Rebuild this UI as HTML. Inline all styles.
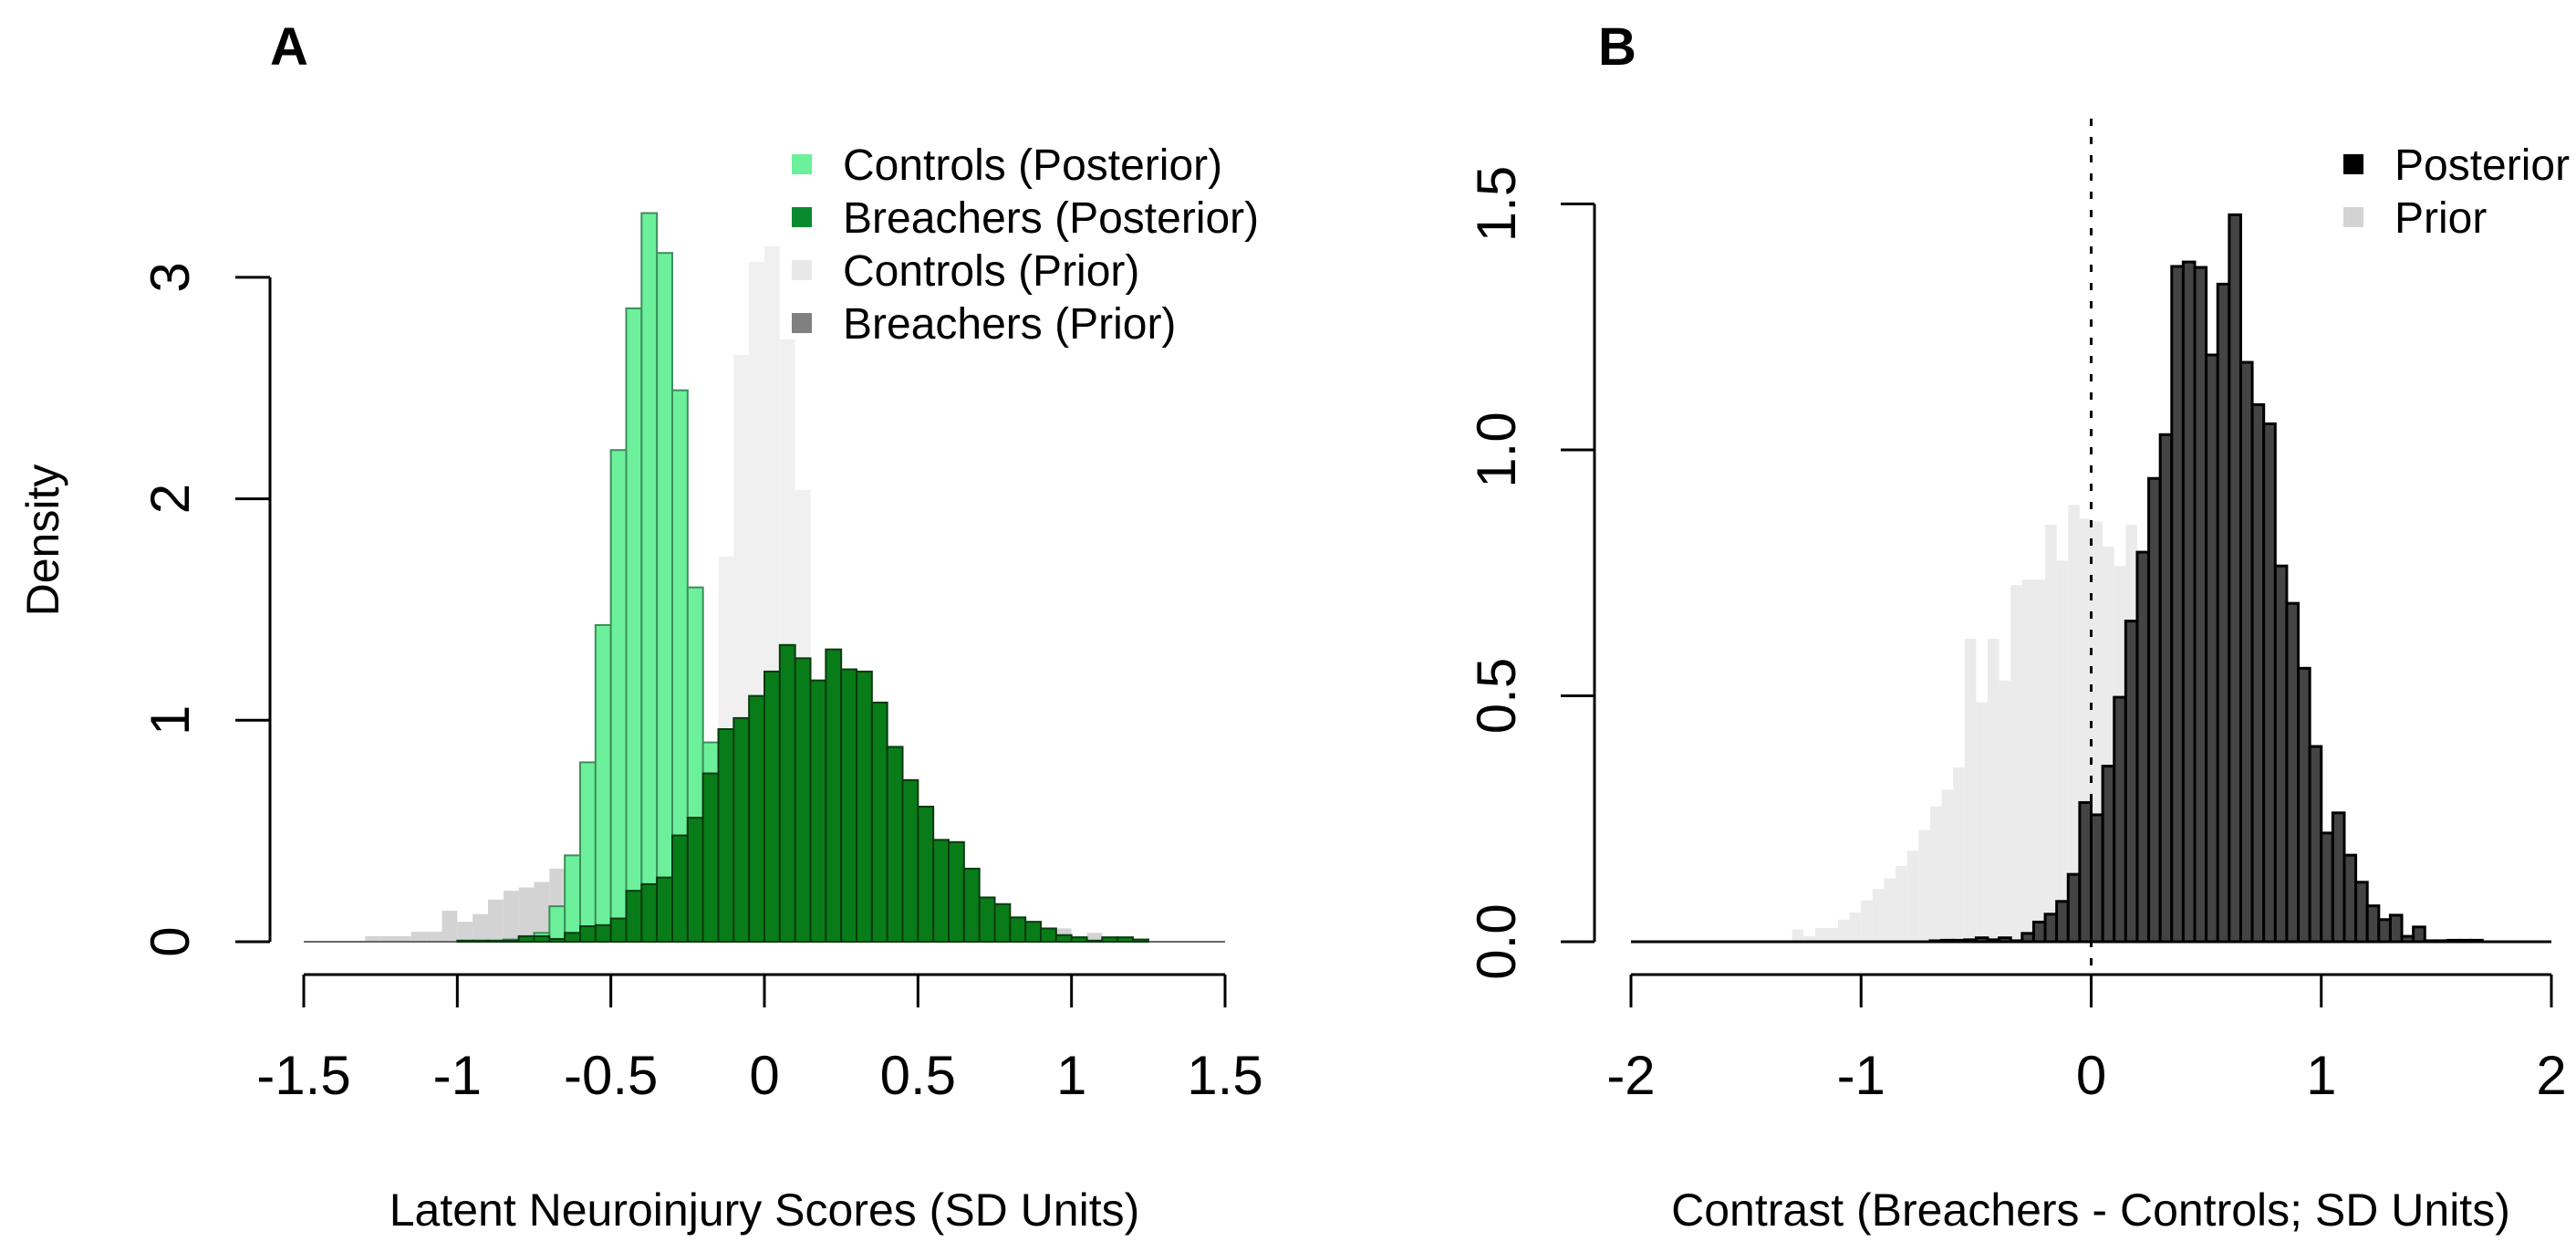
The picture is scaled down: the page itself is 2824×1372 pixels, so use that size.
<!DOCTYPE html>
<html><head><meta charset="utf-8"><style>
html,body{margin:0;padding:0;background:#fff;}
svg{display:block;font-family:"Liberation Sans",Arial,sans-serif;}
</style></head>
<body>
<svg id="fig" width="2824" height="1372" viewBox="0 0 2824 1372" xmlns="http://www.w3.org/2000/svg">
<rect width="2824" height="1372" fill="#fff"/>
<g id="panelA"></g>
<g id="panelB"></g>
</svg>
<script>
// ---- Panel A data (bin width 0.05) ----
const binW = 0.05;
const ctrlPriorStart = -0.40;
const ctrlPrior = [0.3,0.5,0.7,0.85,0.88,1.74,2.65,3.07,3.14,2.72,2.04,1.0,0.6,0.3,0.15,0.05];
const brPriorStart = -1.30;
const brPrior = [0.025,0.025,0.025,0.045,0.045,0.14,0.09,0.125,0.19,0.23,0.245,0.27,0.33,
  0.35,0.4,0.45,0.45,0.45,0.45,0.45,0.45,0.5,0.55,0.55,0.55,0.55,0.55,0.55,0.55,0.55,0.5,0.45,0.42,0.40,0.38,
  0.37,0.30,0.27,0.22,0.175,0.155,0.15,0.09,0.075,0.025,0.06,0.025,0.04,0.01];
const ctrlPostStart = -0.85;
const ctrlPost = [0.01,0.02,0.04,0.16,0.39,0.81,1.43,2.22,2.86,3.29,3.11,2.49,1.60,0.90,0.45,0.20,0.08,0.03];
const brPostStart = -1.00;
const brPost = [0.005,0.005,0.005,0.005,0.025,0.025,0.0125,0.04,0.07,0.075,0.105,0.23,0.26,0.29,0.48,0.56,0.76,0.96,1.01,1.11,1.22,1.34,1.28,1.18,1.32,1.23,1.22,1.08,0.88,0.73,0.61,0.46,0.45,0.33,0.20,0.17,0.11,0.09,0.06,0.03,0.02,0.005,0.02,0.02,0.01];
const xTicksA = [-1.5,-1,-0.5,0,0.5,1,1.5];
const xTickLabelsA = ["-1.5","-1","-0.5","0","0.5","1","1.5"];
const yTicksA = [0,1,2,3];
const yTickLabelsA = ["0","1","2","3"];

// ---- Panel B data ----
const postBStart = -0.70;
const postB = [0.002,0.003,0.003,0.004,0.008,0.004,0.008,0.002,0.017,0.04,0.056,0.082,0.137,0.283,0.258,0.357,0.497,0.652,0.792,0.942,1.031,1.373,1.382,1.371,1.193,1.337,1.478,1.178,1.092,1.053,0.764,0.688,0.556,0.397,0.221,0.262,0.176,0.121,0.073,0.045,0.054,0.011,0.03,0.002,0.002,0.003,0.003,0.003];
const priorBStart = -1.30;
const priorB = [0.025,0.011,0.028,0.028,0.045,0.06,0.084,0.107,0.129,0.154,0.185,0.227,0.275,0.309,0.354,0.616,0.487,0.616,0.531,0.725,0.736,0.736,0.848,0.775,0.888,0.86,0.854,0.803,0.764,0.848,0.7,0.6,0.5,0.4,0.3,0.2,0.1,0.05];
const xTicksB = [-2,-1,0,1,2];
const xTickLabelsB = ["-2","-1","0","1","2"];
const yTicksB = [0,0.5,1,1.5];
const yTickLabelsB = ["0.0","0.5","1.0","1.5"];

const NS = "http://www.w3.org/2000/svg";
function mk(parent, tag, attrs, text){
  const e = document.createElementNS(NS, tag);
  for (const k in attrs) e.setAttribute(k, attrs[k]);
  if (text !== undefined) e.textContent = text;
  parent.appendChild(e); return e;
}
const xA = v => 333 + (v + 1.5) * (1010 / 3);
const yA = d => 1032 - d * 242.7;
const xB = v => 1788 + (v + 2) * (1009 / 4);
const yB = d => 1032 - d * 539;

function drawHist(g, start, vals, xs, ys, fill, stroke, name, sw){
  vals.forEach((d, i) => {
    const x0 = xs(start + i * binW), x1 = xs(start + (i + 1) * binW);
    const r = mk(g, 'rect', {x: x0, y: ys(d), width: x1 - x0, height: ys(0) - ys(d), fill: fill,
      stroke: stroke || 'none', 'stroke-width': stroke ? (sw || 2) : 0});
    
    
  });
}

// ---------- Panel A ----------
const A = document.getElementById('panelA');
drawHist(A, ctrlPriorStart, ctrlPrior, xA, yA, '#f0f0f0', null, 'controls-prior-bar');
drawHist(A, brPriorStart, brPrior, xA, yA, '#d3d3d3', null, 'breachers-prior-bar');
mk(A,'line',{x1:xA(-1.5),x2:xA(1.5),y1:yA(0),y2:yA(0),stroke:'#666','stroke-width':2,});
drawHist(A, ctrlPostStart, ctrlPost, xA, yA, '#6cf09c', '#3e8e5a', 'controls-posterior-bar');
drawHist(A, brPostStart, brPost, xA, yA, '#087c18', '#0b3a10', 'breachers-posterior-bar');
mk(A,'line',{x1:xA(-1.5),x2:xA(1.5),y1:1068,y2:1068,stroke:'#000','stroke-width':3,});
xTicksA.forEach((v,i)=>{
  const t=mk(A,'line',{x1:xA(v),x2:xA(v),y1:1068,y2:1104,stroke:'#000','stroke-width':3});
   
  const l=mk(A,'text',{x:xA(v),y:1199,'font-size':60,'text-anchor':'middle'},xTickLabelsA[i]);
   
});
mk(A,'line',{x1:296,x2:296,y1:yA(0),y2:yA(3),stroke:'#000','stroke-width':3,});
yTicksA.forEach((v,i)=>{
  const t=mk(A,'line',{x1:258,x2:296,y1:yA(v),y2:yA(v),stroke:'#000','stroke-width':3});
   
  const l=mk(A,'text',{x:0,y:0,'font-size':60,'text-anchor':'middle',transform:`translate(207,${yA(v)}) rotate(-90)`},yTickLabelsA[i]);
   
});
mk(A,'text',{x:0,y:0,'font-size':50,'text-anchor':'middle',transform:'translate(64,592) rotate(-90)',},'Density');
mk(A,'text',{x:838,y:1343,'font-size':50,'text-anchor':'middle',},'Latent Neuroinjury Scores (SD Units)');
mk(A,'text',{x:296,y:71,'font-size':58,'font-weight':'bold',},'A');
const legA=[['Controls (Posterior)','#6cf09c'],['Breachers (Posterior)','#0a8a30'],['Controls (Prior)','#e8e8e8'],['Breachers (Prior)','#808080']];
const legRowsA=[180,238,296,354];
legA.forEach((e,i)=>{
  const s=mk(A,'rect',{x:868,y:legRowsA[i]-11,width:22,height:22,fill:e[1]});
   
  const t=mk(A,'text',{x:924,y:legRowsA[i]+17,'font-size':48},e[0]);
   
});

// ---------- Panel B ----------
const B = document.getElementById('panelB');
drawHist(B, priorBStart, priorB, xB, yB, '#ebebeb', null, 'prior-bar');
mk(B,'line',{x1:xB(-2),x2:xB(2),y1:yB(0),y2:yB(0),stroke:'#000','stroke-width':3,});
drawHist(B, postBStart, postB, xB, yB, '#444444', '#000', 'posterior-bar', 3);
mk(B,'line',{x1:xB(0),x2:xB(0),y1:130,y2:1100,stroke:'#000','stroke-width':3,'stroke-dasharray':'8 12',});
mk(B,'line',{x1:xB(-2),x2:xB(2),y1:1068,y2:1068,stroke:'#000','stroke-width':3,});
xTicksB.forEach((v,i)=>{
  const t=mk(B,'line',{x1:xB(v),x2:xB(v),y1:1068,y2:1104,stroke:'#000','stroke-width':3});
   
  const l=mk(B,'text',{x:xB(v),y:1199,'font-size':60,'text-anchor':'middle'},xTickLabelsB[i]);
   
});
mk(B,'line',{x1:1748,x2:1748,y1:yB(0),y2:yB(1.5),stroke:'#000','stroke-width':3,});
yTicksB.forEach((v,i)=>{
  const t=mk(B,'line',{x1:1711,x2:1748,y1:yB(v),y2:yB(v),stroke:'#000','stroke-width':3});
   
  const l=mk(B,'text',{x:0,y:0,'font-size':60,'text-anchor':'middle',transform:`translate(1661,${yB(v)}) rotate(-90)`},yTickLabelsB[i]);
   
});
mk(B,'text',{x:2292,y:1343,'font-size':50,'text-anchor':'middle',},'Contrast (Breachers - Controls; SD Units)');
mk(B,'text',{x:1752,y:71,'font-size':58,'font-weight':'bold',},'B');
const legB=[['Posterior','#000'],['Prior','#d3d3d3']];
const legRowsB=[180,238];
legB.forEach((e,i)=>{
  const s=mk(B,'rect',{x:2569,y:legRowsB[i]-11,width:22,height:22,fill:e[1]});
   
  const t=mk(B,'text',{x:2625,y:legRowsB[i]+17,'font-size':48},e[0]);
   
});
</script>
</body></html>
